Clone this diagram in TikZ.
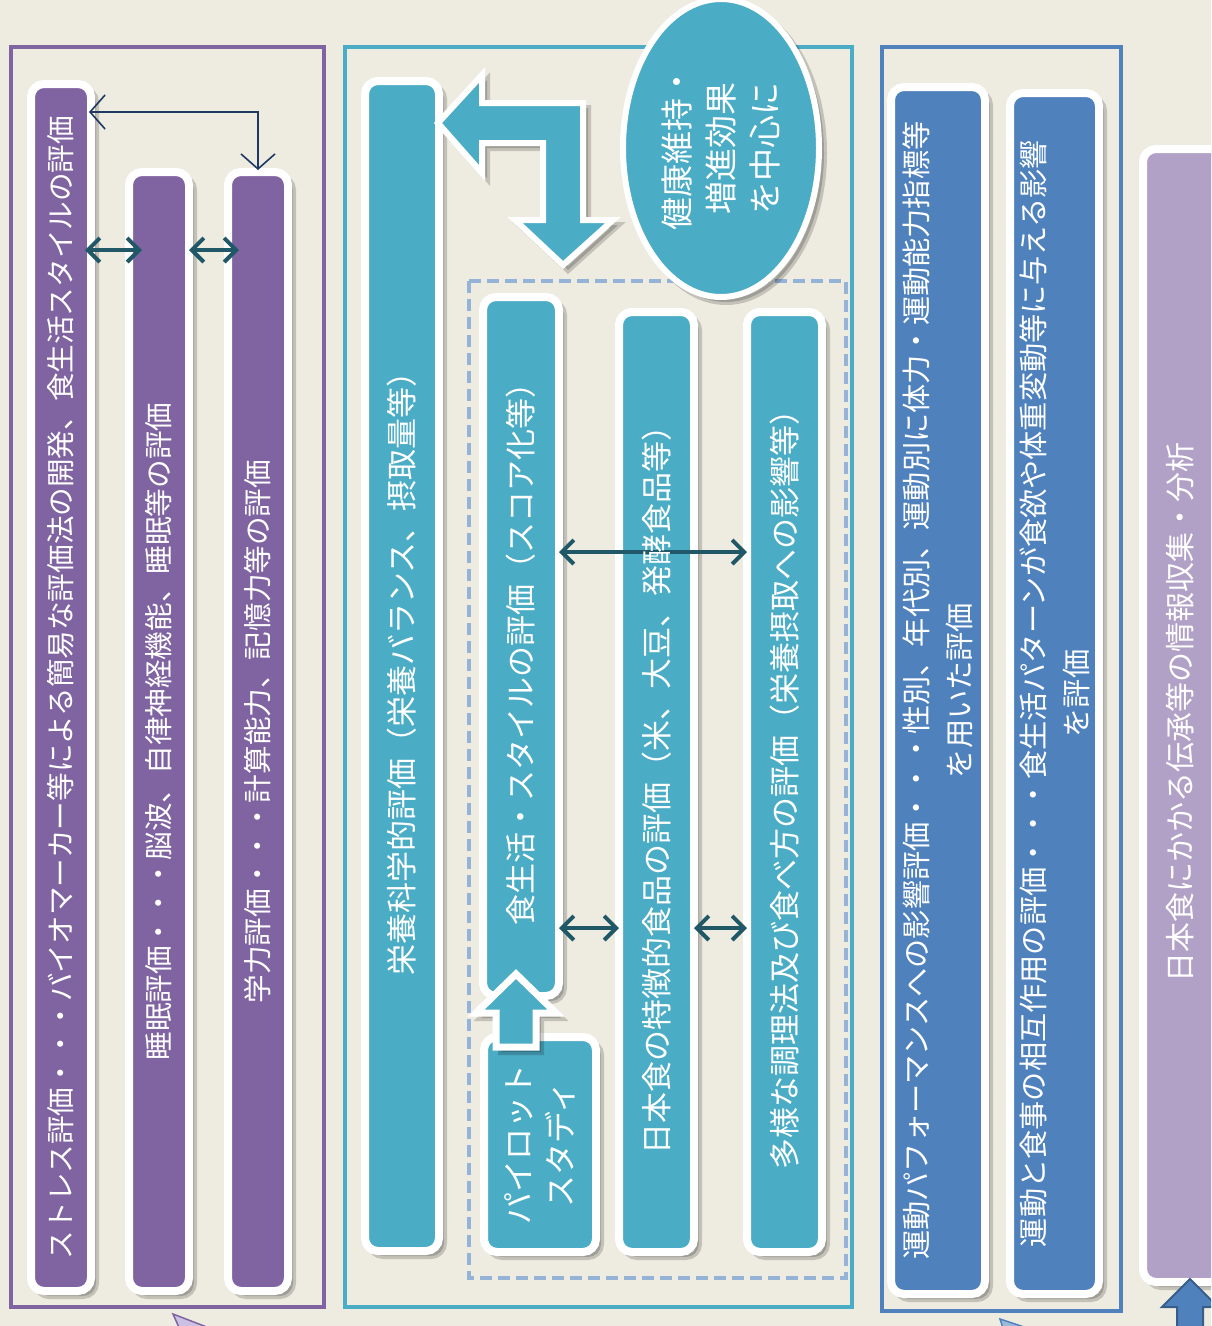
\documentclass[tikz,border=0pt]{standalone}
\usepackage{fontspec}
\setmainfont{Noto Sans CJK JP}
\usetikzlibrary{arrows.meta,shapes.geometric,shadows}
\definecolor{bgc}{HTML}{EEECE1}
\definecolor{purp}{HTML}{8064A2}
\definecolor{cyanc}{HTML}{4BACC6}
\definecolor{bluec}{HTML}{4F81BD}
\definecolor{bluedk}{HTML}{385D8A}
\definecolor{lavc}{HTML}{B2A1C7}
\definecolor{lavlt}{HTML}{CCC1E4}
\definecolor{tealdk}{HTML}{205867}
\definecolor{navyc}{HTML}{1F3864}
\definecolor{dashc}{HTML}{95B3D7}
\newcommand\myfA{\fontsize{28.6}{34}\selectfont}
\newcommand\myfB{\fontsize{31}{40}\selectfont}
\newcommand\myfC{\fontsize{29.2}{43}\selectfont}
\newcommand\myfD{\fontsize{32}{42}\selectfont}
\newcommand\myfE{\fontsize{33}{44}\selectfont}
\tikzset{
  shd/.style={drop shadow={shadow xshift=5pt, shadow yshift=-5pt, opacity=0.18, fill=black, draw=black, line width=6pt}},
  bar/.style={draw=white, line width=8pt, rounded corners=13pt, inner sep=0pt, outer sep=0pt, shd},
  lbl/.style={text=white, rotate=90, inner sep=0pt, align=center},
  dbl/.style={draw=tealdk, line width=4pt, arrows={Straight Barb[length=12pt,width=24pt]-Straight Barb[length=12pt,width=24pt]}},
  navyarr/.style={draw=navyc, line width=1.6pt, arrows={Straight Barb[length=15pt,width=34pt]-Straight Barb[length=15pt,width=34pt]}},
  frame/.style={line width=4pt},
  blockarrow/.style={fill=cyanc, draw=white, line width=6pt, line join=miter, shd}
}
\begin{document}
\begin{tikzpicture}[x=1pt,y=-1pt]
\useasboundingbox (0,0) rectangle (1211,1326);
\begin{scope}
\clip (0,0) rectangle (1211,1326);
\fill[bgc] (0,0) rectangle (1211,1326);

% frames
\draw[purp, frame] (11,47) rectangle (324,1307);
\draw[cyanc, frame] (345,47) rectangle (852,1307);
\draw[bluec, frame] (882,47) rectangle (1121,1311);
\draw[dashc, frame, dash pattern=on 12pt off 6pt] (469,281) rectangle (846,1278);

% left bars
\node[bar, fill=purp, minimum width=60pt, minimum height=1207pt] (b1) at (61,687.5) {};
\node[bar, fill=purp, minimum width=60pt, minimum height=1119pt] (b2) at (159,731.5) {};
\node[bar, fill=purp, minimum width=60pt, minimum height=1119pt] (b3) at (258,731.5) {};

% middle bars
\node[bar, fill=cyanc, minimum width=74pt, minimum height=1170pt] (nut) at (402,666) {};
\node[bar, fill=cyanc, minimum width=76pt, minimum height=699pt] (diet) at (521,646.5) {};
\node[bar, fill=cyanc, minimum width=112pt, minimum height=215pt] (pilot) at (540,1144.5) {};
\node[bar, fill=cyanc, minimum width=75pt, minimum height=940pt] (jfood) at (656.5,782) {};
\node[bar, fill=cyanc, minimum width=75pt, minimum height=940pt] (cook) at (784.5,782) {};

% right bars
\node[bar, fill=bluec, minimum width=94pt, minimum height=1207pt] (sp1) at (938,690.5) {};
\node[bar, fill=bluec, minimum width=89pt, minimum height=1201pt] (sp2) at (1054.5,693.5) {};
\node[bar, fill=lavc, minimum width=84pt, minimum height=1133pt] (lav) at (1185,715.5) {};

% block arrows
\draw[blockarrow] (438,123) -- (482,75) -- (482,103) -- (583,103) -- (583,220) -- (613,220)
  -- (563,265) -- (515,220) -- (543,220) -- (543,143) -- (482,143) -- (482,173) -- cycle;
\draw[blockarrow, line width=7pt] (516,974) -- (556,1013) -- (536,1013) -- (536,1047) -- (496,1047)
  -- (496,1013) -- (476,1013) -- cycle;
\draw[fill=bluec, draw=bluedk, line width=2pt, line join=miter] (1190,1279) -- (1218,1307) -- (1203,1307)
  -- (1203,1340) -- (1177,1340) -- (1177,1307) -- (1162,1307) -- cycle;
\draw[fill=lavlt, draw=purp, line width=1.5pt, shd] (173,1314) -- (225,1334) -- (182,1334) -- cycle;
\draw[fill=bluec!55, draw=bluec, line width=1.5pt, shd] (1000,1319) -- (1045,1334) -- (1005,1334) -- cycle;

% ellipse
\node[ellipse, fill=cyanc, draw=white, line width=6pt, minimum width=196pt, minimum height=298pt, inner sep=0pt, shd] (ell) at (721,148) {};

% connectors
\draw[dbl, shorten <=-6pt, shorten >=-13pt] (b1.east |- 0,250) -- (b2.west |- 0,250);
\draw[dbl, shorten >=-11pt] (b2.east |- 0,250) -- (b3.west |- 0,250);
\draw[navyarr, shorten <=-2pt, shorten >=2pt] (b1.east |- 0,112) -| (b3.north);
\draw[dbl] (diet.east |- 0,928) -- (jfood.west |- 0,928);
\draw[dbl] (jfood.east |- 0,928) -- (cook.west |- 0,928);
\draw[dbl] (diet.east |- 0,552) -- (cook.west |- 0,552);

% texts
\node[lbl, font=\myfA] (t1) at (b1) {ストレス評価・・・バイオマーカー等による簡易な評価法の開発、食生活スタイルの評価};
\node[lbl, font=\myfA] (t2) at (b2) {睡眠評価・・・脳波、自律神経機能、睡眠等の評価};
\node[lbl, font=\myfA] (t3) at (b3) {学力評価・・・計算能力、記憶力等の評価};
\node[lbl, font=\myfB] (t4) at (nut) {栄養科学的評価（栄養バランス、摂取量等）};
\node[lbl, font=\myfB] (t5) at (diet) {食生活・スタイルの評価（スコア化等）};
\node[lbl, font=\myfD] (t6) at (pilot) {パイロット\\スタディ};
\node[lbl, font=\myfB] (t7) at (jfood) {日本食の特徴的食品の評価（米、大豆、発酵食品等）};
\node[lbl, font=\myfB] (t8) at (cook) {多様な調理法及び食べ方の評価（栄養摂取への影響等）};
\node[lbl, font=\myfE] (t9) at (ell) {健康維持・\\増進効果\\を中心に};
\node[lbl, font=\myfC] (t10) at (sp1) {運動パフォーマンスへの影響評価・・・性別、年代別、運動別に体力・運動能力指標等\\を用いた評価};
\node[lbl, font=\myfC] (t11) at (sp2) {運動と食事の相互作用の評価・・・食生活パターンが食欲や体重変動等に与える影響\\を評価};
\node[lbl, font=\fontsize{30}{36}\selectfont] (t12) at (1180,712) {日本食にかかる伝承等の情報収集・分析};
\end{scope}
\end{tikzpicture}
\end{document}
